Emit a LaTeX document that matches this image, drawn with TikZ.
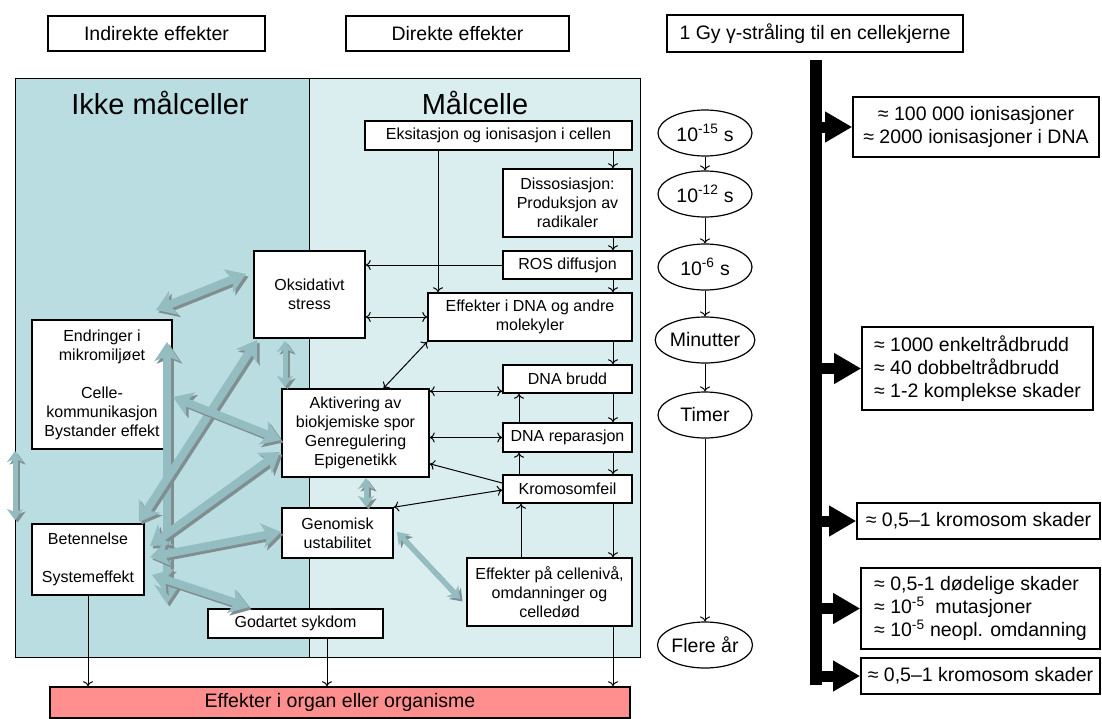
\documentclass[tikz,border=0pt]{standalone}
\usepackage{fontspec}
\setmainfont{Liberation Sans}
\usetikzlibrary{arrows.meta,shapes.geometric}
\definecolor{lpan}{HTML}{B9DDE0}
\definecolor{rpan}{HTML}{DAEDEF}
\definecolor{redb}{HTML}{FF8F8F}
\definecolor{fatc}{HTML}{93BDC1}
\definecolor{fats}{HTML}{818E90}
\newcommand\fA{\fontsize{16}{19}\selectfont}
\newcommand\fB{\fontsize{19.5}{23}\selectfont}
\newcommand\fC{\fontsize{29}{34}\selectfont}
\newcommand\fatarrow[3]{%
  \draw[#1, draw=fats, transform canvas={xshift=2.5pt,yshift=-2.5pt}] (#2) -- (#3);
  \draw[#1, draw=fatc] (#2) -- (#3);}
\tikzset{
  bx/.style={draw, line width=1.6pt, fill=white, inner sep=0pt, align=center, font=\fA},
  bigbx/.style={bx, font=\fB},
  el/.style={ellipse, draw, line width=1.2pt, fill=white, minimum width=94pt, minimum height=46pt, inner sep=0pt, font=\fB},
  tl/.style={line width=1pt, -{To[length=5pt,width=10pt]}},
  tlb/.style={line width=1pt, {To[length=5pt,width=10pt]}-{To[length=5pt,width=10pt]}},
  fat/.style={line width=8pt, {Stealth[length=19pt,width=25pt,inset=5pt]}-{Stealth[length=19pt,width=25pt,inset=5pt]}},
  fatsm/.style={line width=5pt, {Stealth[length=11pt,width=16pt,inset=3pt]}-{Stealth[length=11pt,width=16pt,inset=3pt]}},
  blk/.style={line width=11pt, -{Triangle[length=27pt,width=29pt]}}
}
\begin{document}
\begin{tikzpicture}[x=1pt,y=-1pt]
\useasboundingbox (0,0) rectangle (1102,718);
% panels
\fill[lpan] (15,78) rectangle (309,657);
\fill[rpan] (309,78) rectangle (640,657);
\draw[line width=1pt] (15,78) rectangle (640,657);
\draw[line width=1pt] (309,78) -- (309,657);
\node[font=\fC] (titl) at (160,103) {Ikke målceller};
\node[font=\fC] (titr) at (475,103) {Målcelle};
% top boxes
\node[bigbx, minimum width=217pt, minimum height=35pt] (ind) at (156.5,33.5) {Indirekte effekter};
\node[bigbx, minimum width=223pt, minimum height=35pt] (dir) at (457.5,33.5) {Direkte effekter};
\node[bigbx, minimum width=296pt, minimum height=37pt] (gy) at (815,33.5) {1 Gy γ-stråling til en cellekjerne};
% target cell boxes
\node[bx, minimum width=267pt, minimum height=29pt] (eks) at (498.5,135.5) {Eksitasjon og ionisasjon i cellen};
\node[bx, minimum width=129pt, minimum height=68pt] (dis) at (567.5,203) {Dissosiasjon:\\Produksjon av\\radikaler};
\node[bx, minimum width=129pt, minimum height=28pt] (ros) at (567.5,265) {ROS diffusjon};
\node[bx, minimum width=204pt, minimum height=48pt] (edna) at (530,317) {Effekter i DNA og andre\\molekyler};
\node[bx, minimum width=111pt, minimum height=87pt] (oks) at (309.5,294.5) {Oksidativt\\stress};
\node[bx, minimum width=147pt, minimum height=88pt] (akt) at (355.5,433) {Aktivering av\\biokjemiske spor\\Genregulering\\Epigenetikk};
\node[bx, minimum width=129pt, minimum height=28pt] (brudd) at (567.5,379) {DNA brudd};
\node[bx, minimum width=129pt, minimum height=29pt] (rep) at (567.5,437.5) {DNA reparasjon};
\node[bx, minimum width=129pt, minimum height=28pt] (krom) at (567.5,489) {Kromosomfeil};
\node[bx, minimum width=111pt, minimum height=50pt] (gen) at (337.5,533) {Genomisk\\ustabilitet};
\node[bx, minimum width=165pt, minimum height=68pt] (cell) at (549.5,592) {Effekter på cellenivå,\\omdanninger og\\celledød};
% non-target boxes
\node[bx, minimum width=140pt, minimum height=129pt] (endr) at (102,384.5) {Endringer i\\mikromiljøet\\[19pt]Celle-\\kommunikasjon\\Bystander effekt};
\node[bx, minimum width=112pt, minimum height=71pt] (bet) at (88,559.5) {Betennelse\\[19pt]Systemeffekt};
\node[bx, minimum width=175pt, minimum height=29pt] (god) at (295.5,623.5) {Godartet sykdom};
\node[bigbx, fill=redb, minimum width=580pt, minimum height=31pt] (red) at (340,702.5) {Effekter i organ eller organisme};
% column coordinates
\coordinate (c438) at (438,0);
\coordinate (c613) at (613,0);
\coordinate (c519) at (519,0);
\coordinate (c521) at (521,0);
\coordinate (c327) at (327,0);
% thin connectors
\draw[tl] (eks.south -| c438) -- (edna.north -| c438);
\draw[tl] (eks.south -| c613) -- (dis.north -| c613);
\draw[tl] (dis.south -| c613) -- (ros.north -| c613);
\draw[tl] (ros.south -| c613) -- (edna.north -| c613);
\draw[tl] (ros.west) -- (ros.west -| oks.east);
\draw[tlb] (oks.east |- edna.west) -- (edna.west);
\draw[tlb] (edna.south west) -- ([xshift=28pt]akt.north);
\draw[tlb] ([yshift=-3pt]akt.north east) -- ([yshift=-3pt]akt.north east -| brudd.west);
\draw[tlb] (akt.east |- rep.west) -- (rep.west);
\draw[tl] (edna.south -| c613) -- (brudd.north -| c613);
\draw[tl] (brudd.south -| c613) -- (rep.north -| c613);
\draw[tl] (rep.south -| c613) -- (krom.north -| c613);
\draw[tl] (krom.south -| c613) -- (cell.north -| c613);
\draw[tl] (cell.south -| c613) -- (red.north -| c613);
\draw[tl] (rep.north -| c519) -- (brudd.south -| c519);
\draw[tl] (krom.north -| c519) -- (rep.south -| c519);
\draw[tl] (cell.north -| c521) -- (krom.south -| c521);
\draw[tl] ([yshift=6pt]krom.west) -- ([yshift=14pt]akt.south east);
\draw[tlb] (gen.north east) -- ([yshift=-1pt]krom.west);
\draw[tl] (bet.south) -- (bet.south |- red.north);
\draw[tl] (god.south -| c327) -- (red.north -| c327);
% fat arrow end points
\coordinate (a1) at (156,310);  \coordinate (b1) at (246,274);
\coordinate (a2) at (167,342);  \coordinate (b2) at (167,604);
\coordinate (a3) at (257,340);  \coordinate (b3) at (139,522);
\coordinate (a4) at (173,397);  \coordinate (b4) at (281,440);
\coordinate (a5) at (150,546);  \coordinate (b5) at (280,452);
\coordinate (a6) at (150,557);  \coordinate (b6) at (281,532);
\coordinate (a7) at (152,575);  \coordinate (b7) at (249,607);
\coordinate (a8) at (285,341);  \coordinate (b8) at (285,387);
\coordinate (a9) at (366,478);  \coordinate (b9) at (366,507);
\coordinate (a10) at (397,532); \coordinate (b10) at (460,599);
\coordinate (a11) at (15,451);  \coordinate (b11) at (15,520);
\fatarrow{fat}{a1}{b1}
\fatarrow{fat}{a2}{b2}
\fatarrow{fat}{a3}{b3}
\fatarrow{fat}{a4}{b4}
\fatarrow{fat}{a5}{b5}
\fatarrow{fat}{a6}{b6}
\fatarrow{fat}{a7}{b7}
\fatarrow{fatsm}{a8}{b8}
\fatarrow{fatsm}{a9}{b9}
\fatarrow{fatsm}{a10}{b10}
\fatarrow{fatsm}{a11}{b11}
% timeline
\node[el] (e1) at (705,133) {10\textsuperscript{-15} s};
\node[el] (e2) at (705,194) {10\textsuperscript{-12} s};
\node[el] (e3) at (705,267) {10\textsuperscript{-6} s};
\node[el] (e4) at (705,340) {Minutter};
\node[el] (e5) at (705,415) {Timer};
\node[el] (e6) at (705,645) {Flere år};
\draw[tl] (e1) -- (e2);
\draw[tl] (e2) -- (e3);
\draw[tl] (e3) -- (e4);
\draw[tl] (e4) -- (e5);
\draw[tl] (e5) -- (e6);
% right column
\node[fill=black, inner sep=0pt, minimum width=12pt, minimum height=625pt] (bar) at (816,372.5) {};
\node[bigbx, minimum width=246pt, minimum height=60pt] (r1) at (976,127) {≈ 100 000 ionisasjoner\\≈ 2000 ionisasjoner i DNA};
\node[bigbx, align=left, minimum width=231pt, minimum height=83pt] (r2) at (977.5,368.5) {≈ 1000 enkeltrådbrudd\\≈ 40 dobbeltrådbrudd\\≈ 1-2 komplekse skader};
\node[bigbx, minimum width=243pt, minimum height=36pt] (r3) at (978.5,521) {≈ 0,5–1 kromosom skader};
\node[bigbx, align=left, minimum width=239pt, minimum height=81pt] (r4) at (980.5,608.5) {≈ 0,5-1 dødelige skader\\≈ 10\textsuperscript{-5}\ \ mutasjoner\\≈ 10\textsuperscript{-5} neopl. omdanning};
\node[bigbx, minimum width=239pt, minimum height=36pt] (r5) at (980.5,676) {≈ 0,5–1 kromosom skader};
\draw[blk] (bar.center |- r1.west) -- (r1.west);
\draw[blk] (bar.center |- r2.west) -- (r2.west);
\draw[blk] (bar.center |- r3.west) -- (r3.west);
\draw[blk] (bar.center |- r4.west) -- (r4.west);
\draw[blk] (bar.center |- r5.west) -- (r5.west);
\end{tikzpicture}
\end{document}
